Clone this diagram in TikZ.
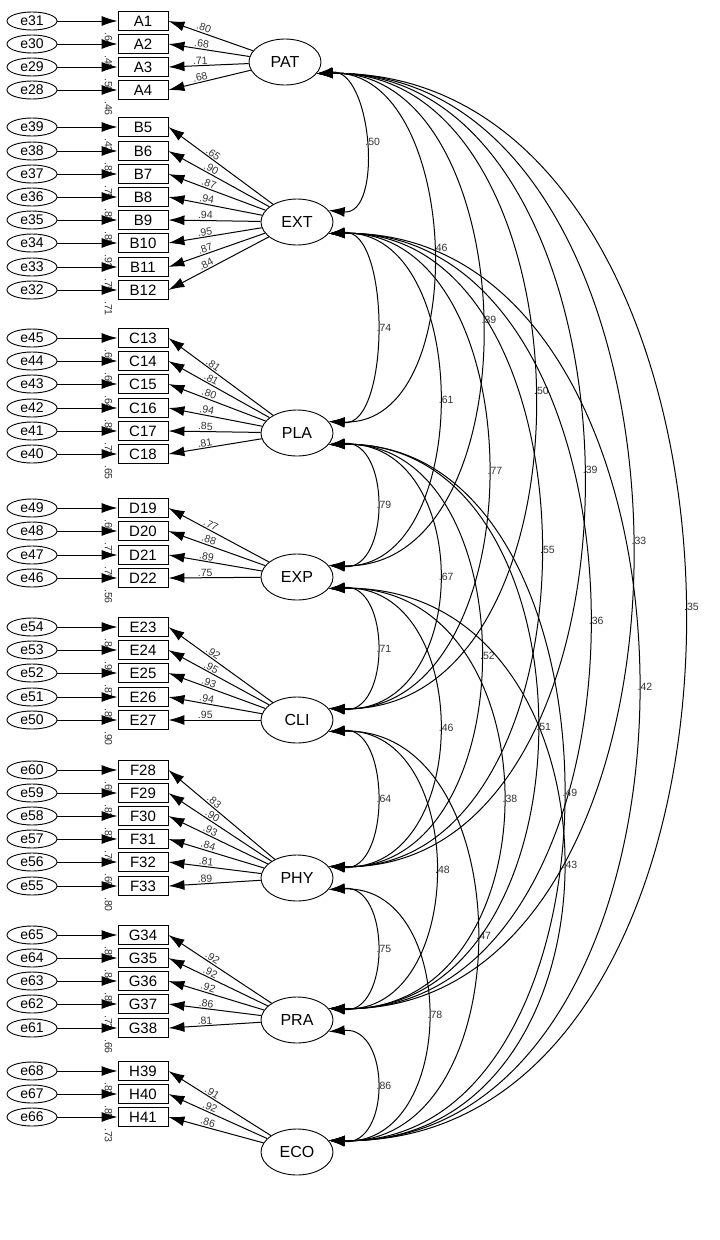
\documentclass[tikz,border=0pt]{standalone}
\usepackage{fontspec}
\setmainfont{Liberation Sans}
\usetikzlibrary{shapes,positioning,arrows.meta}
\tikzset{
  err/.style={draw, ellipse, minimum width=50pt, minimum height=18pt, inner sep=0pt, line width=0.9pt, font=\fontsize{14}{14}\selectfont},
  ind/.style={draw, rectangle, minimum width=50pt, minimum height=19pt, inner sep=0pt, line width=0.9pt, font=\fontsize{15}{15}\selectfont},
  lat/.style={draw, ellipse, minimum width=72pt, minimum height=46pt, inner sep=0pt, line width=0.9pt, font=\fontsize{16}{16}\selectfont},
  arr/.style={-{Latex[length=16pt,width=10pt]}, line width=1pt},
  cov/.style={{Latex[length=16pt,width=10pt]}-{Latex[length=16pt,width=10pt]}, line width=1pt},
  val/.style={font=\fontsize{10.5}{10.5}\selectfont, text=black!80, inner sep=1pt}
}
\begin{document}
\begin{tikzpicture}[x=1pt, y=-1pt]
  \useasboundingbox (0,0) rectangle (720,1240);
  % latent variables
  \node[lat] (PAT) at (285,62) {PAT};
  \node[lat] (EXT) at (297,222) {EXT};
  \node[lat] (PLA) at (297,433) {PLA};
  \node[lat] (EXP) at (297,577) {EXP};
  \node[lat] (CLI) at (297,720) {CLI};
  \node[lat] (PHY) at (297,878) {PHY};
  \node[lat] (PRA) at (297,1020) {PRA};
  \node[lat] (ECO) at (297,1152) {ECO};
  % indicators, errors, loadings
  \foreach \n/\e/\yy/\f/\l/\r in {
      A1/e31/21/PAT/.80/.64, A2/e30/44/PAT/.68/.46, A3/e29/67/PAT/.71/.50, A4/e28/90/PAT/.68/.46,
      B5/e39/127/EXT/.65/.42, B6/e38/151/EXT/.90/.81, B7/e37/174/EXT/.87/.75, B8/e36/197/EXT/.94/.88,
      B9/e35/220/EXT/.94/.88, B10/e34/243/EXT/.95/.91, B11/e33/267/EXT/.87/.75, B12/e32/290/EXT/.84/.71,
      C13/e45/338/PLA/.81/.66, C14/e44/361/PLA/.81/.66, C15/e43/384/PLA/.80/.64, C16/e42/408/PLA/.94/.88,
      C17/e41/431/PLA/.85/.73, C18/e40/454/PLA/.81/.65,
      D19/e49/508/EXP/.77/.60, D20/e48/531/EXP/.88/.77, D21/e47/555/EXP/.89/.79, D22/e46/578/EXP/.75/.56,
      E23/e54/627/CLI/.92/.84, E24/e53/650/CLI/.95/.90, E25/e52/673/CLI/.93/.87, E26/e51/697/CLI/.94/.89,
      E27/e50/720/CLI/.95/.90,
      F28/e60/770/PHY/.83/.69, F29/e59/793/PHY/.90/.81, F30/e58/816/PHY/.93/.87, F31/e57/839/PHY/.84/.70,
      F32/e56/862/PHY/.81/.66, F33/e55/886/PHY/.89/.80,
      G34/e65/935/PRA/.92/.85, G35/e64/958/PRA/.92/.84, G36/e63/981/PRA/.92/.85, G37/e62/1004/PRA/.86/.73,
      G38/e61/1028/PRA/.81/.66,
      H39/e68/1071/ECO/.91/.82, H40/e67/1094/ECO/.92/.85, H41/e66/1117/ECO/.86/.73} {
    \node[ind] (\n) at (143,\yy) {\n};
    \node[err] (\e) at (32,\yy) {\e};
    \draw[arr] (\e) -- (\n);
    \draw[arr] (\f) -- node[val, pos=0.6, sloped, above] {\l} (\n.east);
    \node[val, rotate=-90, anchor=south west] at ([xshift=-14pt]\n.south west) {\r};
  }
  % covariances
  \foreach \a/\b/\c/\v in {
      PAT/EXT/55/.50, EXT/PLA/62/.74, PLA/EXP/62/.79, EXP/CLI/62/.71, CLI/PHY/62/.64, PHY/PRA/62/.75, PRA/ECO/62/.86,
      PAT/PLA/145/.46, EXT/EXP/145/.61, PLA/CLI/145/.67, EXP/PHY/145/.46, CLI/PRA/140/.48, PHY/ECO/130/.78,
      PAT/EXP/210/.39, EXT/CLI/210/.77, PLA/PHY/200/.52, EXP/PRA/230/.38, CLI/ECO/195/.47,
      PAT/CLI/280/.50, EXT/PHY/280/.55, PLA/PRA/275/.51, EXP/ECO/310/.43,
      PAT/PHY/345/.39, EXT/PRA/345/.36, PLA/ECO/310/.49,
      PAT/PRA/410/.33, EXT/ECO/410/.42,
      PAT/ECO/480/.35} {
    \draw[cov] (\a.-20) .. controls +(\c,-5) and +(\c,5) .. node[val, right] {\v} (\b.20);
  }
\end{tikzpicture}
\end{document}
